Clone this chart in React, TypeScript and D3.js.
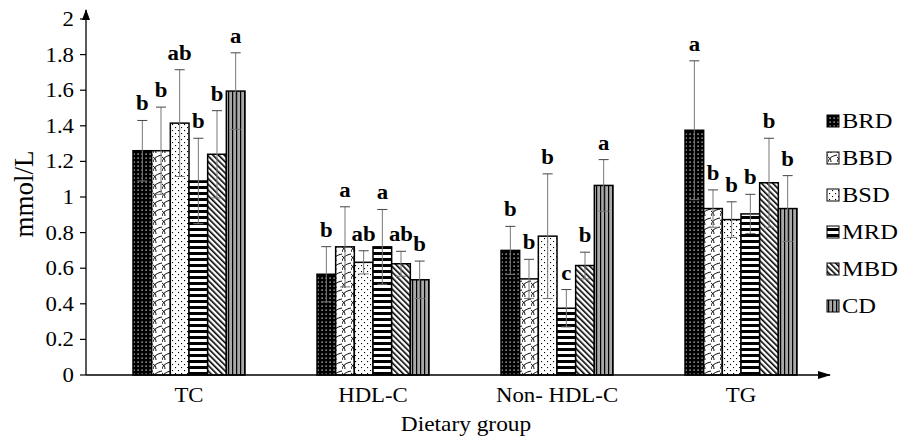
import React from 'react';
import * as d3 from 'd3';

const groups = ['TC', 'HDL-C', 'Non- HDL-C', 'TG'];
const series = ['BRD', 'BBD', 'BSD', 'MRD', 'MBD', 'CD'];

// means per series, in group order
const meanBRD = [1.26, 0.566, 0.70, 1.375];
const meanBBD = [1.26, 0.72, 0.54, 0.935];
const meanBSD = [1.415, 0.633, 0.78, 0.873];
const meanMRD = [1.09, 0.72, 0.375, 0.905];
const meanMBD = [1.24, 0.625, 0.615, 1.08];
const meanCD = [1.595, 0.535, 1.065, 0.935];

// standard deviations
const sdBRD = [0.17, 0.155, 0.135, 0.39];
const sdBBD = [0.245, 0.225, 0.11, 0.105];
const sdBSD = [0.30, 0.065, 0.35, 0.10];
const sdMRD = [0.24, 0.21, 0.105, 0.11];
const sdMBD = [0.245, 0.07, 0.075, 0.25];
const sdCD = [0.215, 0.105, 0.145, 0.185];

// significance letters
const letBRD = ['b', 'b', 'b', 'a'];
const letBBD = ['b', 'a', 'b', 'b'];
const letBSD = ['ab', 'ab', 'b', 'b'];
const letMRD = ['b', 'a', 'c', 'b'];
const letMBD = ['b', 'ab', 'b', 'b'];
const letCD = ['a', 'b', 'a', 'b'];

const yTicks = [0, 0.2, 0.4, 0.6, 0.8, 1, 1.2, 1.4, 1.6, 1.8, 2];

const means = [meanBRD, meanBBD, meanBSD, meanMRD, meanMBD, meanCD];
const sds = [sdBRD, sdBBD, sdBSD, sdMRD, sdMBD, sdCD];
const letters = [letBRD, letBBD, letBSD, letMRD, letMBD, letCD];

const W = 911;
const H = 442;
const AXIS_X = 86;
const Y0 = 375;
const FONT = '"Liberation Serif", "Times New Roman", serif';
const STRETCH = 1.14; // the source figure is a bit wider than tall

// text drawn slightly stretched horizontally, like the source image
function SText({ x, y, size, anchor = 'start', bold = false, children }: any) {
  return (
    <text
      transform={`translate(${x},${y}) scale(${STRETCH},1)`}
      textAnchor={anchor}
      fontSize={size}
      fontWeight={bold ? 'bold' : 'normal'}
      fill="#000"
    >
      {children}
    </text>
  );
}

function Patterns() {
  return (
    <defs>
      <pattern id="p-BRD" width="4" height="4" patternUnits="userSpaceOnUse">
        <rect width="4" height="4" fill="#000" />
        <rect x="1.5" y="1.5" width="1.2" height="1.2" fill="#fff" />
      </pattern>
      <pattern id="p-BBD" width="9" height="9" patternUnits="userSpaceOnUse">
        <rect width="9" height="9" fill="#fff" />
        <path d="M0,9 C1,5 4,3 9,2 M0,4 C2,5 3,7 3,9" stroke="#000" strokeWidth="1" fill="none" />
      </pattern>
      <pattern id="p-BSD" width="6" height="6" patternUnits="userSpaceOnUse">
        <rect width="6" height="6" fill="#fff" />
        <rect x="1" y="1" width="1.1" height="1.1" fill="#000" />
        <rect x="4" y="4" width="1.1" height="1.1" fill="#000" />
      </pattern>
      <pattern id="p-MRD" width="6" height="6" patternUnits="userSpaceOnUse">
        <rect width="6" height="6" fill="#fff" />
        <rect y="0" width="6" height="3" fill="#000" />
      </pattern>
      <pattern id="p-MBD" width="4" height="4" patternUnits="userSpaceOnUse" patternTransform="rotate(-45)">
        <rect width="4" height="4" fill="#fff" />
        <rect x="0" width="1.6" height="4" fill="#000" />
      </pattern>
      <pattern id="p-CD" width="4" height="4" patternUnits="userSpaceOnUse">
        <rect width="4" height="4" fill="#a8a8a8" />
        <rect x="0" width="1.2" height="4" fill="#000" />
      </pattern>
    </defs>
  );
}

export default function App() {
  const y = d3.scaleLinear().domain([0, 2]).range([Y0, 19]);
  const x0 = d3.scaleBand().domain(groups).range([97, 833]);
  const groupW = 112;
  const x1 = d3.scaleBand().domain(series).range([0, groupW]);
  const bw = x1.bandwidth();

  return (
    <svg
      width={W}
      height={H}
      style={{ position: 'absolute', left: 0, top: 0, background: '#fff' }}
      fontFamily={FONT}
    >
      <Patterns />
      <rect width={W} height={H} fill="#fff" />

      {/* bars */}
      {groups.map((g, gi) => {
        const gx = (x0(g) ?? 0) + x0.bandwidth() / 2 - groupW / 2;
        return (
          <g key={g}>
            {series.map((s, si) => {
              const v = means[si][gi];
              const bx = gx + (x1(s) ?? 0);
              return (
                <rect
                  key={s}
                  x={bx}
                  y={y(v)}
                  width={bw}
                  height={Y0 - y(v)}
                  fill={`url(#p-${s})`}
                  stroke="#000"
                  strokeWidth={1.5}
                />
              );
            })}
            {series.map((s, si) => {
              const v = means[si][gi];
              const e = sds[si][gi];
              const cx = gx + (x1(s) ?? 0) + bw / 2;
              return (
                <g key={s + 'e'}>
                  <line x1={cx} x2={cx} y1={y(v - e)} y2={y(v + e)} stroke="#777" strokeWidth={1} />
                  <line x1={cx - 5} x2={cx + 5} y1={y(v + e)} y2={y(v + e)} stroke="#444" strokeWidth={1} />
                  <line x1={cx - 5} x2={cx + 5} y1={y(v - e)} y2={y(v - e)} stroke="#777" strokeWidth={1} />
                  <SText x={cx} y={y(v + e) - 10} size={20} anchor="middle" bold>
                    {letters[si][gi]}
                  </SText>
                </g>
              );
            })}
          </g>
        );
      })}

      {/* y axis */}
      <line x1={AXIS_X} x2={AXIS_X} y1={Y0} y2={10} stroke="#000" strokeWidth={1.3} />
      <path d={`M${AXIS_X - 4},${20} L${AXIS_X},${9} L${AXIS_X + 4},${20} Z`} fill="#000" />
      {yTicks.map((t) => (
        <g key={t}>
          <line x1={AXIS_X - 6} x2={AXIS_X} y1={y(t)} y2={y(t)} stroke="#000" strokeWidth={1.2} />
          <SText x={AXIS_X - 12} y={y(t) + 7} size={20} anchor="end">
            {t}
          </SText>
        </g>
      ))}

      {/* x axis */}
      <line x1={AXIS_X} x2={830} y1={Y0} y2={Y0} stroke="#000" strokeWidth={1.3} />
      <path d={`M${818},${Y0 - 4} L${831},${Y0} L${818},${Y0 + 4} Z`} fill="#000" />
      {groups.map((g) => (
        <SText key={g} x={(x0(g) ?? 0) + x0.bandwidth() / 2} y={Y0 + 27} size={20} anchor="middle">
          {g}
        </SText>
      ))}

      <SText x={466} y={431} size={20.5} anchor="middle">
        Dietary group
      </SText>
      <text
        transform={`translate(33,194) rotate(-90)`}
        textAnchor="middle"
        fontSize={27}
        fill="#000"
      >
        mmol/L
      </text>

      {/* legend */}
      {series.map((s, i) => {
        const ly = 121 + i * 37;
        return (
          <g key={s}>
            <rect x={827} y={ly - 6} width={12} height={12} fill={`url(#p-${s})`} stroke="#000" strokeWidth={1} />
            <SText x={842} y={ly + 7} size={21.5}>
              {s}
            </SText>
          </g>
        );
      })}
    </svg>
  );
}
